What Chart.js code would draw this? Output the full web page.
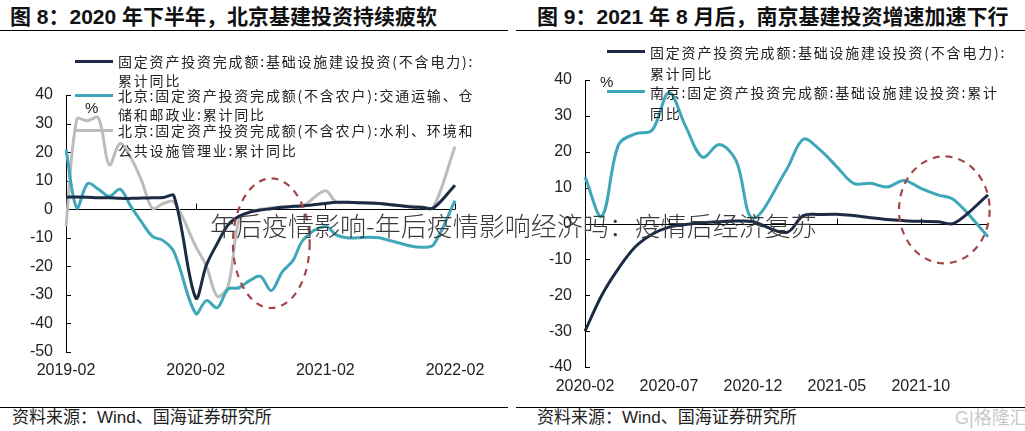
<!DOCTYPE html>
<html>
<head>
<meta charset="utf-8">
<script src="https://cdn.jsdelivr.net/npm/chart.js@4.4.1/dist/chart.umd.min.js"></script>
<style>
    body { margin: 0; width: 1025px; height: 431px; background: #fff; position: relative; overflow: hidden;
           font-family: "Liberation Sans", "Noto Sans CJK SC", sans-serif; color: #222; }
    .abs { position: absolute; white-space: nowrap; }
    .title { font-weight: bold; font-size: 21px; line-height: 24px; top: 5px; color: #111; }
    .rule { position: absolute; height: 1px; background: #000; }
    .src { font-size: 17px; line-height: 20px; top: 408px; }
    .lg { position: absolute; font-family: "Noto Sans CJK SC", sans-serif; font-size: 14px; letter-spacing: 1.8px;
          line-height: 16px; white-space: nowrap; color: #222; }
    .sw { position: absolute; height: 3px; }
    .pct { position: absolute; font-size: 15px; line-height: 16px; }
    canvas { position: absolute; }
    .wm { position: absolute; left: 210px; top: 208px; font-family: "Noto Sans CJK SC", sans-serif; font-weight: 300;
          font-size: 26px; line-height: 34px; color: #3a3a3a; white-space: nowrap; z-index: 5; }
</style>
</head>
<body>

<div class="abs title" style="left:10px">图 8：2020 年下半年，北京基建投资持续疲软</div>
<div class="abs title" style="left:537px">图 9：2021 年 8 月后，南京基建投资增速加速下行</div>
<div class="rule" style="left:0;width:508px;top:30px"></div>
<div class="rule" style="left:516px;width:509px;top:30px"></div>
<div class="rule" style="left:0;width:508px;top:407px"></div>
<div class="rule" style="left:516px;width:509px;top:407px"></div>
<div class="abs src" style="left:12px">资料来源：Wind、国海证券研究所</div>
<div class="abs src" style="left:537px">资料来源：Wind、国海证券研究所</div>
<div class="abs" style="left:955px;top:408px;font-size:18px;line-height:20px;color:#c9c9c9">G|格隆汇</div>

<canvas id="leftChart" width="512" height="345" style="left:0;top:35px"></canvas>
<canvas id="rightChart" width="513" height="360" style="left:512px;top:35px"></canvas>

<!-- left legend -->
<div class="sw" style="left:75px;width:38px;top:60px;background:#1c2b45"></div>
<div class="lg" style="left:118px;top:53px">固定资产投资完成额:基础设施建设投资(不含电力):</div>
<div class="lg" style="left:118px;top:72px">累计同比</div>
<div class="sw" style="left:75px;width:38px;top:94px;background:#3ea7ba"></div>
<div class="lg" style="left:118px;top:87px">北京:固定资产投资完成额(不含农户):交通运输、仓</div>
<div class="lg" style="left:118px;top:106px">储和邮政业:累计同比</div>
<div class="sw" style="left:75px;width:38px;top:129px;background:#bcbcbc"></div>
<div class="lg" style="left:118px;top:122px">北京:固定资产投资完成额(不含农户):水利、环境和</div>
<div class="lg" style="left:118px;top:142px">公共设施管理业:累计同比</div>
<div class="pct" style="left:85px;top:100px">%</div>

<!-- right legend -->
<div class="sw" style="left:607px;width:38px;top:50px;background:#1c2b45"></div>
<div class="lg" style="left:650px;top:44px">固定资产投资完成额:基础设施建设投资(不含电力):</div>
<div class="lg" style="left:650px;top:65px">累计同比</div>
<div class="sw" style="left:607px;width:38px;top:90px;background:#3ea7ba"></div>
<div class="lg" style="left:650px;top:84px">南京:固定资产投资完成额:基础设施建设投资:累计</div>
<div class="lg" style="left:650px;top:105px">同比</div>
<div class="pct" style="left:600px;top:74px">%</div>

<div class="wm">年后疫情影响-年后疫情影响经济吗：疫情后经济复苏</div>

<script>
// ---- Figure 8: Beijing, monthly 2019-02 .. 2022-02 (January has no release) ----
const leftLabels = [
    '2019-02', '2019-03', '2019-04', '2019-05', '2019-06', '2019-07', '2019-08', '2019-09', '2019-10', '2019-11', '2019-12',
    '2020-01', '2020-02', '2020-03', '2020-04', '2020-05', '2020-06', '2020-07', '2020-08', '2020-09', '2020-10', '2020-11', '2020-12',
    '2021-01', '2021-02', '2021-03', '2021-04', '2021-05', '2021-06', '2021-07', '2021-08', '2021-09', '2021-10', '2021-11', '2021-12',
    '2022-01', '2022-02'
];
const leftTickLabels = ['2019-02', '2020-02', '2021-02', '2022-02'];

const nationalInfraA = [
    4.2, 4.3, 4.2, 4.0, 4.0, 3.8, 3.8, 3.9, 4.0, 4.1, 4.6,
    null, -31, -19.5, -12, -5.5, -2.5, -1.0, -0.3, 0.2, 0.7, 1.0, 1.2,
    null, 2.0, 2.4, 2.4, 2.3, 2.2, 2.0, 1.6, 1.2, 0.8, 0.6, 0.4,
    null, 8.4
];
const beijingTransport = [
    21, 0.5, 9, 7, 4.5, 7, 1, -4.5, -9.5, -11, -15,
    null, -36.5, -32, -34.5, -28, -27.5, -25, -23.5, -28.5, -22, -18, -10.5,
    null, -6, -9, -10, -10, -9.8, -10, -11, -12, -13, -13.3, -12.5,
    null, 3
];
const beijingWater = [
    -6, 31.5, 31, 32, 15.5, 23, 18, 10, 0.3, 2, 2.5,
    null, -13, -20, -30.5, -27, -4, -1, 0, 0.5, 0.8, 1.0, 1.4,
    null, 6.5, 2.5, 2.4, 2.3, 2.2, 2.0, 1.7, 1.3, 1.0, 0.8, 0.7,
    null, 22
];
const leftYTicks = [40, 30, 20, 10, 0, -10, -20, -30, -40, -50];
// highlighted area: category index, value, half-width (categories), half-height (%)
const leftEllipse = { cx: 19, cy: -11.9, rx: 3.55, ry: 22.7 };

// ---- Figure 9: Nanjing, monthly 2020-02 .. 2022-02 ----
const rightLabels = [
    '2020-02', '2020-03', '2020-04', '2020-05', '2020-06', '2020-07', '2020-08', '2020-09', '2020-10', '2020-11', '2020-12',
    '2021-01', '2021-02', '2021-03', '2021-04', '2021-05', '2021-06', '2021-07', '2021-08', '2021-09', '2021-10', '2021-11', '2021-12',
    '2022-01', '2022-02'
];
const rightTickLabels = ['2020-02', '2020-07', '2020-12', '2021-05', '2021-10'];

const nationalInfraB = [
    -30, -20, -12.5, -6.5, -3, -1, -0.3, 0.2, 0.5, 0.7, 0.5,
    null, -2.5, 2.2, 2.5, 2.6, 2.2, 1.6, 1.1, 0.8, 0.6, 0.5, 0.1,
    null, 8
];
const nanjingInfra = [
    13, 2, 22, 25, 26, 36.5, 27, 18.5, 22, 17.5, 1.5,
    null, 15, 23.5, 20.5, 15.8, 11.2, 11.2, 10.2, 12, 9.8, 8, 6.5,
    null, -3.7
];
const rightYTicks = [40, 30, 20, 10, 0, -10, -20, -30, -40];
const rightEllipse = { cx: 21.4, cy: 3.8, rx: 2.7, ry: 14.9 };

const NAVY = '#1c2b45';
const TEAL = '#3ea7ba';
const GRAY = '#bcbcbc';
const ELLIPSE = '#a4474b';

// zero line, inward ticks and the dashed highlight ellipse
const decorPlugin = {
    id: 'decor',
    beforeDatasetsDraw(chart, args, opts) {
        const { ctx, chartArea: area, scales: { x, y } } = chart;
        const y0 = Math.round(y.getPixelForValue(0)) + 0.5;
        ctx.save();
        ctx.strokeStyle = '#000';
        ctx.lineWidth = 1;
        ctx.beginPath();
        ctx.moveTo(area.left, y0);
        ctx.lineTo(area.right, y0);
        opts.tickLabels.forEach(lbl => {
            const px = Math.round(x.getPixelForValue(chart.data.labels.indexOf(lbl))) + 0.5;
            ctx.moveTo(px, y0);
            ctx.lineTo(px, y0 - 6);
        });
        y.ticks.forEach(t => {
            const py = Math.round(y.getPixelForValue(t.value)) + 0.5;
            ctx.moveTo(area.left, py);
            ctx.lineTo(area.left + 5, py);
        });
        ctx.stroke();
        ctx.restore();
    },
    afterDatasetsDraw(chart, args, opts) {
        const { ctx, scales: { x, y } } = chart;
        const e = opts.ellipse;
        const cx = x.getPixelForValue(e.cx);
        const cy = y.getPixelForValue(e.cy);
        const rx = x.getPixelForValue(e.cx + e.rx) - cx;
        const ry = cy - y.getPixelForValue(e.cy + e.ry);
        ctx.save();
        ctx.strokeStyle = ELLIPSE;
        ctx.lineWidth = 2.2;
        ctx.setLineDash([7, 6]);
        ctx.beginPath();
        ctx.ellipse(cx, cy, rx, ry, 0, 0, Math.PI * 2);
        ctx.stroke();
        ctx.restore();
    }
};

function series(data, color) {
    return {
        data: data,
        borderColor: color,
        borderWidth: 3,
        pointRadius: 0,
        tension: 0.35,
        fill: false,
        spanGaps: true
    };
}

function buildChart(canvasId, cfg) {
    return new Chart(document.getElementById(canvasId), {
        type: 'line',
        data: {
            labels: cfg.labels,
            datasets: cfg.datasets
        },
        plugins: [decorPlugin],
        options: {
            responsive: false,
            animation: false,
            devicePixelRatio: 1,
            layout: { padding: cfg.padding },
            plugins: {
                legend: { display: false },
                tooltip: { enabled: false },
                decor: { tickLabels: cfg.tickLabels, ellipse: cfg.ellipse }
            },
            scales: {
                x: {
                    offset: false,
                    grid: { display: false, drawTicks: false },
                    border: { display: false },
                    ticks: {
                        autoSkip: false,
                        maxRotation: 0,
                        minRotation: 0,
                        padding: cfg.xPad,
                        color: '#222',
                        font: { family: 'Liberation Sans', size: 16 },
                        callback: function(value, index) {
                            const lbl = cfg.labels[index];
                            return cfg.tickLabels.includes(lbl) ? lbl : '';
                        }
                    },
                    afterFit: s => { s.height = 28; }
                },
                y: {
                    min: cfg.yTicks[cfg.yTicks.length - 1],
                    max: cfg.yTicks[0],
                    grid: { display: false, drawTicks: false },
                    border: { display: true, color: '#000', width: 1 },
                    afterBuildTicks: s => { s.ticks = cfg.yTicks.map(v => ({ value: v })); },
                    ticks: {
                        padding: 13,
                        color: '#222',
                        font: { family: 'Liberation Sans', size: 16 }
                    },
                    afterFit: s => { s.width = cfg.yWidth; }
                }
            }
        }
    });
}

buildChart('leftChart', {
    labels: leftLabels,
    tickLabels: leftTickLabels,
    yTicks: leftYTicks,
    ellipse: leftEllipse,
    padding: { top: 60, right: 57, left: 0, bottom: 0 },
    yWidth: 66,
    xPad: 9,
    datasets: [
        series(nationalInfraA, NAVY),
        series(beijingTransport, TEAL),
        series(beijingWater, GRAY)
    ]
});

buildChart('rightChart', {
    labels: rightLabels,
    tickLabels: rightTickLabels,
    yTicks: rightYTicks,
    ellipse: rightEllipse,
    padding: { top: 45, right: 37, left: 0, bottom: 0 },
    yWidth: 73,
    xPad: 10,
    datasets: [
        series(nationalInfraB, NAVY),
        series(nanjingInfra, TEAL)
    ]
});
</script>
</body>
</html>
